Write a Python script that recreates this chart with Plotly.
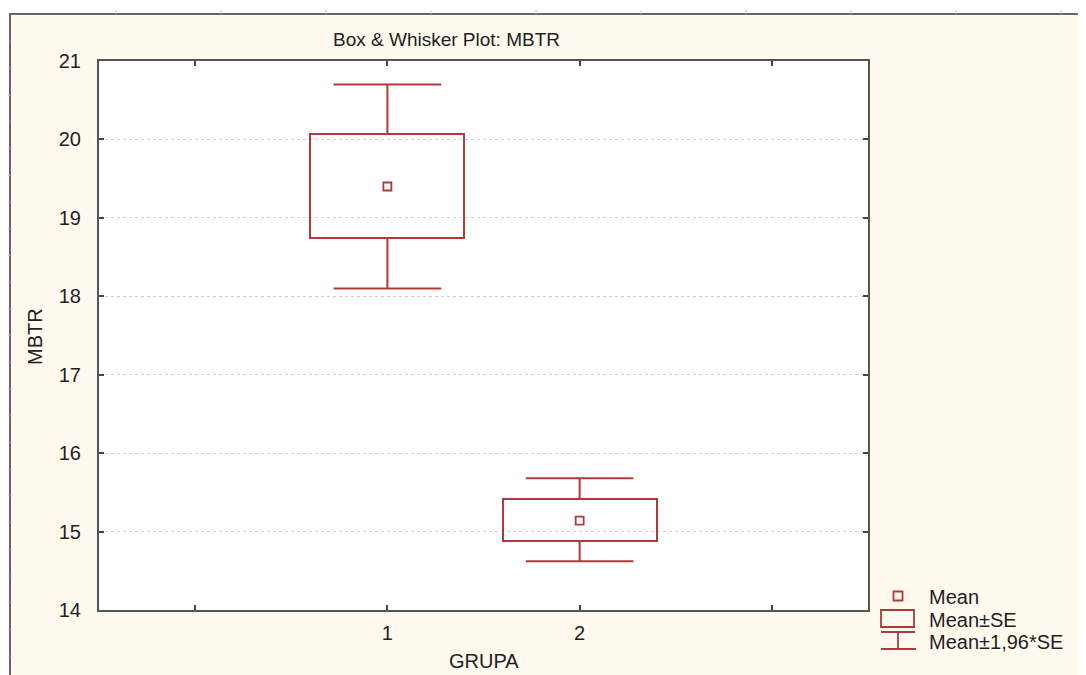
import plotly.graph_objects as go

# ---- data ----
groups = [1, 2]
means = [19.40, 15.14]
se_low = [18.74, 14.88]      # Mean - SE
se_high = [20.07, 15.41]     # Mean + SE
ci_low = [18.10, 14.62]      # Mean - 1.96*SE
ci_high = [20.70, 15.68]     # Mean + 1.96*SE
y_ticks = [14, 15, 16, 17, 18, 19, 20, 21]
x_tickvals = [0, 1, 2, 3]
x_ticktext = ["", "1", "2", ""]

RED = "#B03A3A"
CREAM = "#FFF9EE"
AXC = "#555555"
TXT = "#1e1e24"
FONT = "Liberation Sans, Arial, sans-serif"

BOX_W = 0.8          # box width in category units
CAP_HALF = 0.28      # whisker cap half-width in category units

OFF = 8                      # page body margin of the html page
SW, SH = 1086, 675           # screenshot size
W, H = SW - OFF, SH - OFF    # figure size
# plot-area edges in screenshot pixels
L, R, T, B = 99, 868, 61, 610


def px(x):
    return (x - L) / (R - L)


def py(y):
    return (B - y) / (B - T)


fig = go.Figure()

# Mean ± SE boxes
fig.add_trace(go.Bar(
    x=groups, base=se_low, y=[h - l for h, l in zip(se_high, se_low)],
    width=BOX_W, marker=dict(color="rgba(255,255,255,0)", line=dict(color=RED, width=2)),
    showlegend=False, hoverinfo="skip",
))

# whiskers (Mean ± 1.96*SE) as line segments built from the data
wx, wy = [], []
for g, sl, sh, cl, ch in zip(groups, se_low, se_high, ci_low, ci_high):
    wx += [g, g, None, g - CAP_HALF, g + CAP_HALF, None,
           g, g, None, g - CAP_HALF, g + CAP_HALF, None]
    wy += [sh, ch, None, ch, ch, None,
           sl, cl, None, cl, cl, None]
fig.add_trace(go.Scatter(
    x=wx, y=wy, mode="lines", line=dict(color=RED, width=2),
    showlegend=False, hoverinfo="skip",
))

# means
fig.add_trace(go.Scatter(
    x=groups, y=means, mode="markers",
    marker=dict(symbol="square-open", size=8, color=RED, line=dict(width=1.8, color=RED)),
    showlegend=False, hoverinfo="skip",
))

shapes = []
# white outer strips and frame lines
shapes.append(dict(type="rect", xref="paper", yref="paper", x0=px(OFF - 5), x1=px(10), y0=py(SH + 5), y1=py(OFF - 5),
                   fillcolor="white", line=dict(width=0), layer="above"))
shapes.append(dict(type="rect", xref="paper", yref="paper", x0=px(OFF - 5), x1=px(SW + 5), y0=py(14), y1=py(OFF - 5),
                   fillcolor="white", line=dict(width=0), layer="above"))
shapes.append(dict(type="line", xref="paper", yref="paper", x0=px(10), x1=px(10), y0=py(14), y1=py(SH + 5),
                   line=dict(color="#666666", width=2), layer="above"))
shapes.append(dict(type="line", xref="paper", yref="paper", x0=px(9), x1=px(SW + 5), y0=py(14), y1=py(14),
                   line=dict(color="#666666", width=2), layer="above"))
# faint ruler ticks outside the frame
xx = 116.0
while xx < SW:
    shapes.append(dict(type="line", xref="paper", yref="paper", x0=px(xx), x1=px(xx), y0=py(10), y1=py(14),
                       line=dict(color="#c8c8c8", width=1), layer="above"))
    xx += 105.0
yy = 42.0
while yy < SH:
    shapes.append(dict(type="line", xref="paper", yref="paper", x0=px(OFF - 1), x1=px(10), y0=py(yy), y1=py(yy),
                       line=dict(color="#c8c8c8", width=1), layer="above"))
    yy += 26.7

# custom legend symbols
shapes.append(dict(type="rect", xref="paper", yref="paper", x0=px(893.5), x1=px(902.5), y0=py(600.5), y1=py(591.5),
                   line=dict(color=RED, width=1.8), fillcolor="rgba(0,0,0,0)"))
shapes.append(dict(type="rect", xref="paper", yref="paper", x0=px(881), x1=px(914), y0=py(627), y1=py(610),
                   line=dict(color=RED, width=1.8), fillcolor="rgba(0,0,0,0)"))
shapes.append(dict(type="line", xref="paper", yref="paper", x0=px(881), x1=px(915), y0=py(632), y1=py(632),
                   line=dict(color=RED, width=1.8)))
shapes.append(dict(type="line", xref="paper", yref="paper", x0=px(881), x1=px(916), y0=py(649), y1=py(649),
                   line=dict(color=RED, width=1.8)))
shapes.append(dict(type="line", xref="paper", yref="paper", x0=px(898), x1=px(898), y0=py(632), y1=py(649),
                   line=dict(color=RED, width=1.8)))

annotations = []


def ann(text, x, y, xanchor="center", angle=0, size=20):
    annotations.append(dict(text=text, xref="paper", yref="paper", x=px(x), y=py(y),
                            xanchor=xanchor, yanchor="middle", showarrow=False, textangle=angle,
                            font=dict(family=FONT, size=size, color=TXT)))


ann("Box & Whisker Plot: MBTR", 446, 40, size=19)
ann("GRUPA", 483.5, 661)
ann("MBTR", 35, 337, angle=-90)
ann("Mean", 927, 597, xanchor="left")
ann("Mean±SE", 927, 620, xanchor="left")
ann("Mean±1,96*SE", 927, 642, xanchor="left")

fig.update_layout(
    width=W, height=H,
    margin=dict(l=L - OFF, r=W - (R - OFF), t=T - OFF, b=H - (B - OFF), pad=0),
    paper_bgcolor=CREAM, plot_bgcolor="white",
    showlegend=False, bargap=0,
    shapes=shapes, annotations=annotations,
    font=dict(family=FONT, size=20, color=TXT),
)
fig.update_xaxes(
    range=[-0.5, 3.5], tickmode="array", tickvals=x_tickvals, ticktext=x_ticktext,
    showgrid=False, zeroline=False, showline=True, linecolor=AXC, linewidth=2, mirror="ticks",
    ticks="inside", ticklen=5, tickwidth=1.5, tickcolor="#444444",
    tickfont=dict(family=FONT, size=20, color=TXT), ticklabelstandoff=4,
)
fig.update_yaxes(
    range=[14, 21], tickmode="array", tickvals=y_ticks,
    showgrid=True, gridcolor="#cfcfcf", griddash="dot", gridwidth=1,
    zeroline=False, showline=True, linecolor=AXC, linewidth=2, mirror="ticks",
    ticks="inside", ticklen=5, tickwidth=1.5, tickcolor="#444444",
    tickfont=dict(family=FONT, size=20, color=TXT), ticklabelstandoff=12,
)

fig.write_html("out.html")
